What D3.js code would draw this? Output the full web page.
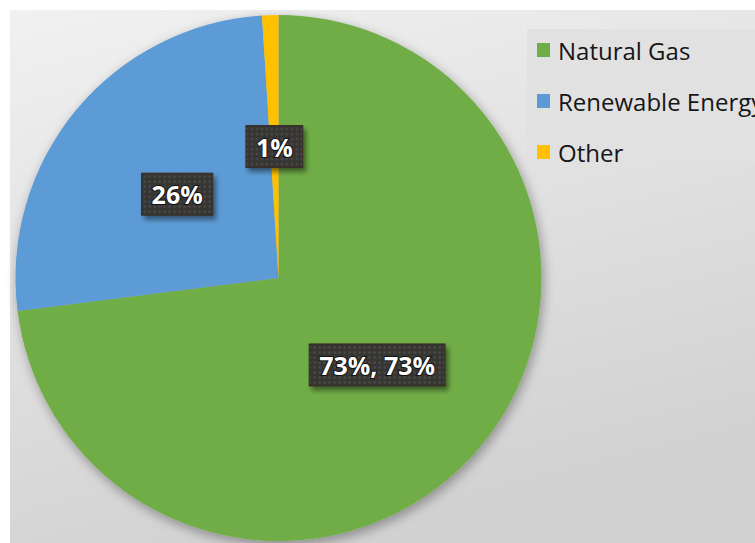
<!DOCTYPE html>
<html>
<head>
<meta charset="utf-8">
<script src="https://cdn.jsdelivr.net/npm/d3@7"></script>
<style>
  html, body { margin: 0; padding: 0; background: #ffffff; }
  svg { display: block; }
</style>
</head>
<body>
<div id="grafico"></div>
<script>
// dados do grafico
const categorias = ["Natural Gas", "Renewable Energy", "Other"];
const valores = [73, 26, 1];
const rotulos = ["73%, 73%", "26%", "1%"];
const cores = ["#70ad47", "#5b9bd5", "#ffc000"];

const largura = 755;
const altura = 543;
const cx = 278.5, cy = 278, raio = 263;

const svg = d3.select("#grafico")
    .append("svg")
    .attr("width", largura)
    .attr("height", altura);

const defs = svg.append("defs");

// fundo em degrade
const grad = defs.append("linearGradient")
    .attr("id", "fundo")
    .attr("x1", 0).attr("y1", 0).attr("x2", 0.35).attr("y2", 1);
grad.append("stop").attr("offset", "0%").attr("stop-color", "#f1f1f1");
grad.append("stop").attr("offset", "100%").attr("stop-color", "#d2d2d2");

// sombra da pizza
const sombra = defs.append("filter").attr("id", "sombra")
    .attr("x", "-10%").attr("y", "-10%").attr("width", "120%").attr("height", "120%");
sombra.append("feGaussianBlur").attr("in", "SourceAlpha").attr("stdDeviation", 6);
sombra.append("feOffset").attr("dx", 2).attr("dy", 4).attr("result", "b");
sombra.append("feComponentTransfer").append("feFuncA").attr("type", "linear").attr("slope", 0.35);
const m = sombra.append("feMerge");
m.append("feMergeNode");
m.append("feMergeNode").attr("in", "SourceGraphic");

// sombra das caixas de rotulo
const sombraCaixa = defs.append("filter").attr("id", "sombraCaixa")
    .attr("x", "-20%").attr("y", "-20%").attr("width", "150%").attr("height", "160%");
sombraCaixa.append("feGaussianBlur").attr("in", "SourceAlpha").attr("stdDeviation", 2.5);
sombraCaixa.append("feOffset").attr("dx", 3).attr("dy", 4);
sombraCaixa.append("feComponentTransfer").append("feFuncA").attr("type", "linear").attr("slope", 0.45);
const m2 = sombraCaixa.append("feMerge");
m2.append("feMergeNode");
m2.append("feMergeNode").attr("in", "SourceGraphic");

// textura pontilhada das caixas
const pad = defs.append("pattern").attr("id", "pontos")
    .attr("width", 5).attr("height", 5).attr("patternUnits", "userSpaceOnUse");
pad.append("rect").attr("width", 5).attr("height", 5).attr("fill", "#363433");
pad.append("circle").attr("cx", 2.5).attr("cy", 2.5).attr("r", 1.3).attr("fill", "#4d4b4a");

svg.append("rect")
    .attr("x", 10).attr("y", 10)
    .attr("width", largura - 10).attr("height", altura - 10)
    .attr("fill", "url(#fundo)");

// pizza
const pie = d3.pie().sort(null).value(d => d)(valores);
const arco = d3.arc().innerRadius(0).outerRadius(raio);

const g = svg.append("g").attr("transform", `translate(${cx},${cy})`);

g.append("g").attr("filter", "url(#sombra)")
    .selectAll("path")
    .data(pie)
    .enter()
    .append("path")
    .attr("d", arco)
    .attr("fill", (d, i) => cores[i]);

// rotulos com caixa escura
const rot = g.selectAll(".rotulo")
    .data(pie)
    .enter()
    .append("g")
    .attr("class", "rotulo")
    .attr("transform", d => `translate(${arco.centroid(d)})`);

rot.append("rect").attr("class", "caixa");
rot.append("text")
    .text((d, i) => rotulos[i])
    .attr("text-anchor", "middle")
    .attr("dominant-baseline", "central")
    .attr("fill", "white")
    .style("font-family", "'Open Sans', sans-serif")
    .style("font-size", "25px")
    .style("font-weight", "bold")
    .style("paint-order", "stroke")
    .style("stroke", "#111")
    .style("stroke-width", "2px");

rot.each(function() {
    const el = d3.select(this);
    const bb = el.select("text").node().getBBox();
    el.select("rect")
        .attr("x", bb.x - 10)
        .attr("y", -21)
        .attr("width", bb.width + 20)
        .attr("height", 42)
        .attr("fill", "url(#pontos)")
        .attr("stroke", "#3a2a22")
        .attr("stroke-width", 1)
        .attr("filter", "url(#sombraCaixa)");
});

// legenda
const leg = svg.append("g");
leg.append("rect")
    .attr("x", 527).attr("y", 29)
    .attr("width", largura - 527).attr("height", 133)
    .attr("fill", "#e1e1e1");

const yLeg = d3.scalePoint().domain(categorias).range([50, 152]);

const itens = leg.selectAll(".item")
    .data(categorias)
    .enter()
    .append("g")
    .attr("transform", d => `translate(537,${yLeg(d)})`);

itens.append("rect")
    .attr("x", 0).attr("y", -7)
    .attr("width", 13).attr("height", 14)
    .attr("fill", (d, i) => cores[i]);

itens.append("text")
    .text(d => d)
    .attr("x", 21)
    .attr("dominant-baseline", "central")
    .attr("fill", "#161616")
    .style("font-family", "'Open Sans', sans-serif")
    .style("font-size", "24px");
</script>
</body>
</html>
